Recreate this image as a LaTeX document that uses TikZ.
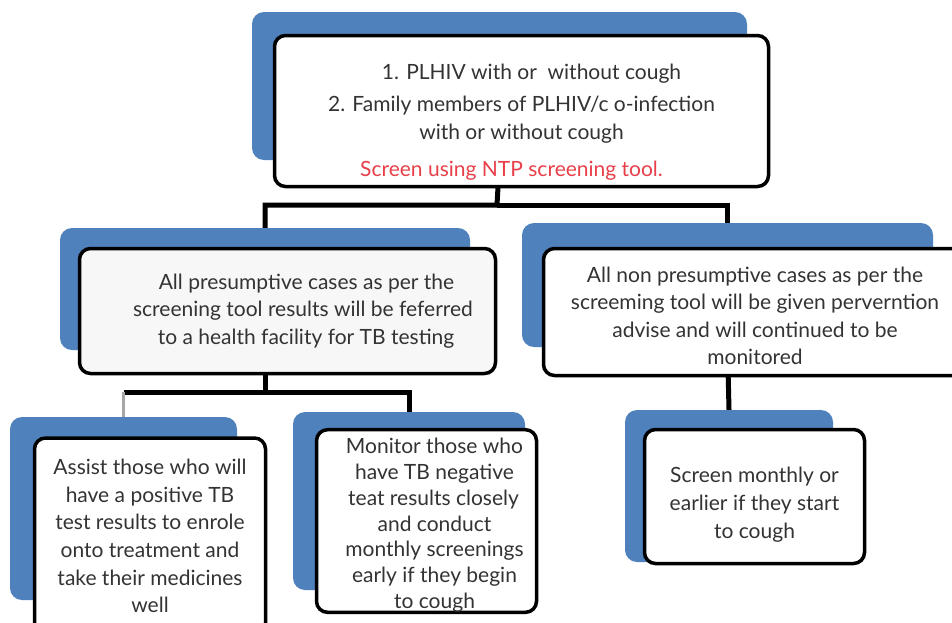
\documentclass[tikz,border=0pt]{standalone}
\usepackage{fontspec}
\setmainfont{Lato}
\usepackage{tikz}
\usetikzlibrary{positioning}
\definecolor{shadeblue}{HTML}{4F81BD}
\definecolor{txtgray}{HTML}{333333}
\definecolor{tipred}{HTML}{E8404A}
\newcommand{\padtop}[1]{\rule{0pt}{#1}}
\tikzset{>=latex,
  shadowbox/.style={fill=shadeblue,rounded corners=12pt,inner sep=0pt},
  flowbox/.style={draw=black,line width=3.5pt,fill=white,rounded corners=11pt,
    align=center,text=txtgray,inner sep=0pt,font=\fontsize{21}{27.6}\selectfont},
  link/.style={line width=5pt},
  faintlink/.style={line width=3pt,gray!70}}

\begin{document}
\begin{tikzpicture}[x=1pt,y=-1pt]
\useasboundingbox (0,0) rectangle (952,622);
\clip (0,0) rectangle (952,622);
% blue shadows
\node[shadowbox,minimum width=495pt,minimum height=148pt] (topS) at (499.5,86) {};
\node[shadowbox,minimum width=410pt,minimum height=122pt] (presS) at (265,289) {};
\node[shadowbox,minimum width=411pt,minimum height=124pt] (nonS) at (727.5,285) {};
\node[shadowbox,minimum width=227pt,minimum height=183pt] (posS) at (123.5,508.5) {};
\node[shadowbox,minimum width=232pt,minimum height=178pt] (negS) at (409,501) {};
\node[shadowbox,minimum width=208pt,minimum height=152pt] (monS) at (729,486) {};
% connectors
\coordinate (busA) at (497,205);
\coordinate (busB) at (265,392);
\draw[link] (topS.south) -- (busA) -| (presS.north);
\draw[link] (busA) -| (nonS.north);
\draw[link] (presS.south) -- (busB) -| (negS.north);
\draw[link] (busB) -- (posS.north |- busB);
\draw[faintlink] (posS.north |- busB) -- (posS.north);
\draw[link] (nonS.south) -- (monS.north);
% boxes
\node[flowbox,minimum width=494pt,minimum height=151pt] (top) at (521.5,111)
  {\padtop{38pt}\hspace*{20pt}1. PLHIV with or\ \ without cough\\[5pt]
   2. Family members of PLHIV/c o-infection\\with or without cough\hspace*{22pt}\\[10pt]
   \textcolor{tipred}{Screen using NTP screening tool.}\hspace*{20pt}};
\node[flowbox,fill=gray!6,minimum width=416pt,minimum height=125pt] (pres) at (287.5,311)
  {\hspace*{38pt}All presumptive cases as per the\\
   \hspace*{31pt}screening tool results will be feferred\\
   \hspace*{37pt}to a health facility for TB testing};
\node[flowbox,minimum width=423pt,minimum height=127pt] (non) at (755,312)
  {\padtop{23pt}All non presumptive cases as per the\\
   screeming tool will be given pervernt\-ion\\
   advise and will continued to be\\monitored};
\node[flowbox,minimum width=231pt,minimum height=196pt] (pos) at (150,536)
  {Assist those who will\\have a positive TB\\test results to enrole\\
   onto treatment and\\take their medicines\\well};
\node[flowbox,minimum width=220pt,minimum height=179pt,
  font=\fontsize{21}{25.8}\selectfont] (neg) at (426.5,521)
  {\padtop{24pt}\hspace*{16pt}Monitor those who\\\hspace*{16pt}have TB negative\\
   \hspace*{14pt}teat results closely\\\hspace*{16pt}and conduct\\
   \hspace*{16pt}monthly screenings\\\hspace*{16pt}early if they begin\\
   \hspace*{16pt}to cough};
\node[flowbox,minimum width=220pt,minimum height=134pt] (mon) at (754.5,496.5)
  {\padtop{32pt}Screen monthly or\\earlier if they start\\to cough};
\end{tikzpicture}
\end{document}
